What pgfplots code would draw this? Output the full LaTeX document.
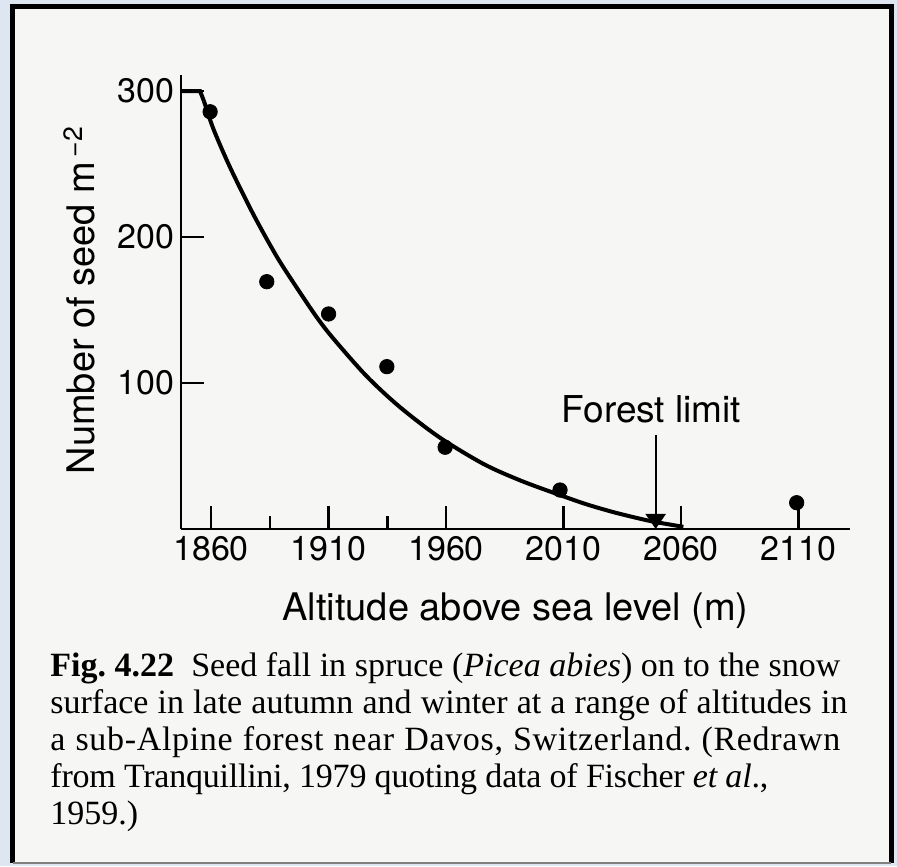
\documentclass[border=0pt]{standalone}
\usepackage{fontspec}
\setmainfont{TeX Gyre Heros}
\newfontfamily\capfont{Liberation Serif}
\usepackage{pgfplots}
\pgfplotsset{compat=1.18}
\usetikzlibrary{arrows.meta}
\definecolor{outerblue}{RGB}{221,230,241}
\definecolor{paper}{RGB}{246,246,244}
\frenchspacing
\begin{document}
\begin{tikzpicture}
\path[use as bounding box] (0,0) rectangle (448.5pt,433pt);
\fill[outerblue] (0,0) rectangle (448.5pt,433pt);
\fill[paper] (6.25pt,1.5pt) rectangle (445.5pt,429.5pt);
\draw[black, line width=2.5pt] (6.25pt,1.5pt) -- (6.25pt,429.5pt) -- (445.5pt,429.5pt) -- (445.5pt,1.5pt);
\draw[gray, line width=0.8pt] (6.25pt,1.5pt) -- (445.5pt,1.5pt);
\begin{axis}[
  at={(90.5pt,168.5pt)}, anchor=south west,
  scale only axis, width=334.5pt, height=227pt,
  xmin=1847.2, xmax=2131.9, ymin=0, ymax=311,
  axis lines*=left,
  axis line style={line width=1.4pt, black},
  xtick={1860,1910,1960,2010,2060,2110},
  xticklabels={1860,1910,1960,2010,2060,2110},
  ytick={100,200,300},
  tick align=inside,
  major tick length=11.5pt,
  tick style={line width=1.2pt, black},
  extra x ticks={1885,1935},
  extra x tick labels={},
  extra x tick style={major tick length=6.5pt},
  ticklabel style={font=\fontsize{17}{20}\selectfont},
  /pgf/number format/assume math mode=true,
  xlabel={Altitude above sea level (m)},
  ylabel={Number of seed m\textsuperscript{\,−2}},
  label style={font=\fontsize{19}{22}\selectfont},
  xlabel style={at={(axis description cs:0.5,-0.2026)}, anchor=base},
  ylabel style={at={(axis description cs:-0.1286,0.504)}, anchor=base},
  clip=false,
]
\addplot[black, line width=2pt] coordinates {(1847.2,300) (1855.3,300) (1857,293)};
\addplot[black, line width=2pt, smooth, tension=0.5] coordinates {
  (1857,293) (1861,274) (1868,248) (1878,215.5) (1888,186.5) (1897,164)
  (1905,145) (1912,130.5) (1926,105) (1940,84) (1957,63) (1976,44.5)
  (1992,33) (2008,23.5) (2020,16.8) (2032,11.2) (2044,6.5) (2050,4.5) (2061,1.5)};
\addplot[only marks, mark=*, mark size=3.6pt, black] coordinates {
  (1859.6,285.8) (1883.7,169.4) (1910,147.3) (1934.8,111.2) (1959.6,56)
  (2008.5,26.7) (2109.2,18)};
\draw[black, line width=1pt, -{Triangle[width=10pt,length=7.5pt]}] (axis cs:2049.2,64.4) -- (axis cs:2049.2,0);
\node[anchor=base, font=\fontsize{18.5}{22}\selectfont] at (axis cs:2047.4,72.8) {Forest limit};
\end{axis}
\begin{scope}[every node/.style={anchor=base west, inner sep=0pt, font=\capfont\fontsize{17}{20}\selectfont}]
\node at (25pt,94.5pt) {\makebox[395pt][s]{\textbf{Fig. 4.22}\ \ Seed fall in spruce (\textit{Picea abies}) on to the snow}};
\node at (25pt,76.1pt) {\makebox[398.5pt][s]{surface in late autumn and winter at a range of altitudes in}};
\node at (25pt,57.7pt) {\addfontfeature{LetterSpace=2}\makebox[395pt][s]{a sub-Alpine forest near Davos, Switzerland. (Redrawn}};
\node at (25pt,39.3pt) {\addfontfeature{LetterSpace=-0.7}from Tranquillini, 1979 quoting data of Fischer \textit{et al}.,};
\node at (25pt,20.9pt) {1959.)};
\end{scope}
\end{tikzpicture}
\end{document}
